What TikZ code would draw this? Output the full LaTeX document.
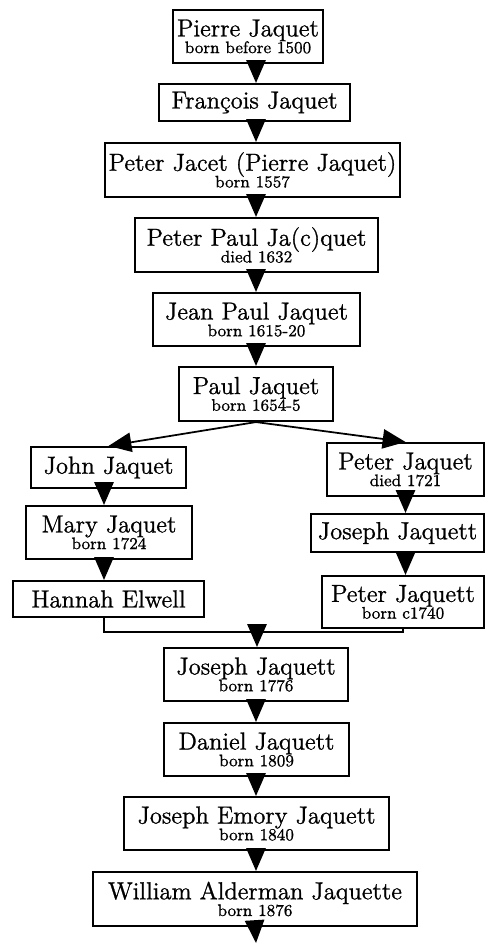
\documentclass[tikz,border=0pt]{standalone}
\usepackage{fontspec}
\setmainfont{Latin Modern Roman}[FakeBold=1]
\usepackage{tikz}
\usetikzlibrary{arrows.meta}
\tikzset{
    person/.style={draw, line width=1.2pt, inner sep=0pt, align=center,
        font=\fontsize{14}{16}\selectfont},
    link/.style={line width=1pt, -{Triangle[length=13pt,width=11pt]}},
}
\newcommand{\dates}[1]{\\[-6.5pt]{\fontsize{9.5}{10}\selectfont #1}}

\begin{document}
\begin{tikzpicture}[x=0.02cm, y=-0.02cm]
\useasboundingbox (0,0) rectangle (485,943);

\node[person, minimum width=3.00cm, minimum height=1.06cm] (pierre) at (248,36.5) {Pierre Jaquet\dates{born before 1500}};
\node[person, minimum width=3.82cm, minimum height=0.74cm] (francois) at (254.5,102.5) {François Jaquet};
\node[person, minimum width=5.90cm, minimum height=1.08cm] (jacet) at (252.5,170) {Peter Jacet (Pierre Jaquet)\dates{born 1557}};
\node[person, minimum width=4.86cm, minimum height=1.08cm] (peterpaul) at (256.5,245) {Peter Paul Ja(c)quet\dates{died 1632}};
\node[person, minimum width=4.14cm, minimum height=1.06cm] (jeanpaul) at (256.5,319.5) {Jean Paul Jaquet\dates{born 1615-20}};
\node[person, minimum width=3.08cm, minimum height=1.08cm] (paul) at (256,394) {Paul Jaquet\dates{born 1654-5}};

\node[person, minimum width=3.10cm, minimum height=0.82cm] (john) at (108.5,467.5) {John Jaquet};
\node[person, minimum width=3.32cm, minimum height=1.06cm] (mary) at (109,532.5) {Mary Jaquet\dates{born 1724}};
\node[person, minimum width=3.82cm, minimum height=0.72cm] (hannah) at (108.5,599) {Hannah Elwell};

\node[person, minimum width=3.14cm, minimum height=1.06cm] (peter) at (405.5,469.5) {Peter Jaquet\dates{died 1721}};
\node[person, minimum width=3.46cm, minimum height=0.76cm] (joseph) at (397.5,533) {Joseph Jaquett};
\node[person, minimum width=3.24cm, minimum height=1.04cm] (peterj) at (403,602) {Peter Jaquett\dates{born c1740}};

\node[person, minimum width=3.68cm, minimum height=1.06cm] (josephjj) at (256,674.5) {Joseph Jaquett\dates{born 1776}};
\node[person, minimum width=3.70cm, minimum height=1.06cm] (daniel) at (256.5,749.5) {Daniel Jaquett\dates{born 1809}};
\node[person, minimum width=5.30cm, minimum height=1.06cm] (emory) at (256.5,823.5) {Joseph Emory Jaquett\dates{born 1840}};
\node[person, minimum width=6.48cm, minimum height=1.08cm] (william) at (255,899) {William Alderman Jaquette\dates{born 1876}};

\coordinate (trunk) at (256,0);
\coordinate (left) at (104,0);
\coordinate (mid) at (257,632);
\coordinate (tail) at (256,943);

\foreach \a/\b in {pierre/francois, francois/jacet, jacet/peterpaul, peterpaul/jeanpaul,
    jeanpaul/paul, josephjj/daniel, daniel/emory, emory/william}
    \draw[link] (\a.south -| trunk) -- (\b.north -| trunk);

\draw[link] (paul.south) -- (john.north);
\draw[link] (paul.south) -- (peter.north);
\draw[link] (john.south -| left) -- (mary.north -| left);
\draw[link] (mary.south -| left) -- (hannah.north -| left);
\draw[link] (peter.south) -- (peter.south |- joseph.north);
\draw[link] (peter.south |- joseph.south) -- (peter.south |- peterj.north);

\draw[line width=1.2pt] (hannah.south -| left) |- (mid) -| (peterj.south);
\draw[link] (mid) -- (mid |- josephjj.north);
\draw[link] (william.south) -- (tail);
\end{tikzpicture}
\end{document}
